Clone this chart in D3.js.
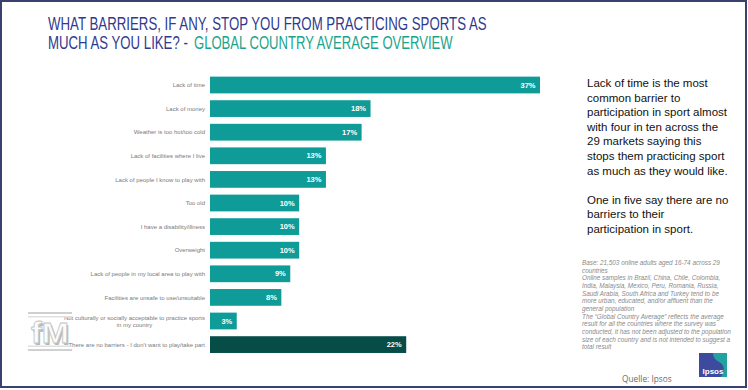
<!DOCTYPE html>
<html>
<head>
<meta charset="utf-8">
<script src="https://cdn.jsdelivr.net/npm/d3@7"></script>
<style>
  html, body { margin: 0; padding: 0; background: #fff; }
  svg { display: block; font-family: "Liberation Sans", Arial, sans-serif; }
</style>
</head>
<body>
<div id="chart"></div>
<script>
// chart data
var categories = [
    "Lack of time",
    "Lack of money",
    "Weather is too hot/too cold",
    "Lack of facilities where I live",
    "Lack of people I know to play with",
    "Too old",
    "I have a disability/illness",
    "Overweight",
    "Lack of people in my local area to play with",
    "Facilities are unsafe to use/unsuitable",
    "Not culturally or socially acceptable to practice sports\nin my country",
    "There are no barriers - I don't want to play/take part"
];
var values = [37, 18, 17, 13, 13, 10, 10, 10, 9, 8, 3, 22];
var highlight = [false, false, false, false, false, false, false, false, false, false, false, true];

var titleLine1 = "WHAT BARRIERS, IF ANY, STOP YOU FROM PRACTICING SPORTS AS";
var titleLine2a = "MUCH AS YOU LIKE? -";
var titleLine2b = "GLOBAL COUNTRY AVERAGE OVERVIEW";

var summaryLines = [
    "Lack of time is the most",
    "common barrier to",
    "participation in sport almost",
    "with four in ten across the",
    "29 markets saying this",
    "stops them practicing sport",
    "as much as they would like.",
    "",
    "One in five say there are no",
    "barriers to their",
    "participation in sport."
];

var noteLines = [
    "Base: 21,503 online adults aged 16-74 across 29",
    "countries",
    "Online samples in Brazil, China, Chile, Colombia,",
    "India, Malaysia, Mexico, Peru, Romania, Russia,",
    "Saudi Arabia, South Africa and Turkey tend to be",
    "more urban, educated, and/or affluent than the",
    "general population",
    "The \u201cGlobal Country Average\u201d reflects the average",
    "result for all the countries where the survey was",
    "conducted, it has not been adjusted to the population",
    "size of each country and is not intended to suggest a",
    "total result"
];

function init() {
    var w = 748;
    var h = 390;

    var svg = d3.select("#chart").append("svg")
                .attr("width", w)
                .attr("height", h);

    // frame
    svg.append("rect")
       .attr("x", 1).attr("y", 1)
       .attr("width", w - 3).attr("height", h - 4)
       .attr("fill", "#fff")
       .attr("stroke", "#3b416f")
       .attr("stroke-width", 2);

    // title, squeezed horizontally to the narrow face of the original
    function squeezed(str, x, y, width, color) {
        var g = svg.append("g");
        var t = g.append("text")
                 .attr("font-size", 18)
                 .attr("fill", color)
                 .text(str);
        var natural = t.node().getComputedTextLength();
        g.attr("transform", "translate(" + x + "," + y + ") scale(" + (width / natural) + ",1)");
    }
    squeezed(titleLine1, 48, 30, 439, "#2f3a8f");
    squeezed(titleLine2a, 48, 49, 140, "#2f3a8f");
    squeezed(titleLine2b, 194, 49, 259, "#1aa38c");

    // bars
    var left = 210;
    var xScale = d3.scaleLinear()
                   .domain([0, 37])
                   .range([0, 330]);

    var yScale = d3.scaleBand()
                   .domain(categories)
                   .range([73.2, 356.4])
                   .paddingInner(0.29)
                   .paddingOuter(0.145);

    var chart = svg.append("g").attr("transform", "translate(" + left + ",0)");

    chart.selectAll("rect.bar")
         .data(categories)
         .enter()
         .append("rect")
         .attr("class", "bar")
         .attr("x", 0)
         .attr("y", d => yScale(d))
         .attr("width", (d, i) => xScale(values[i]))
         .attr("height", yScale.bandwidth())
         .attr("fill", (d, i) => highlight[i] ? "#064c47" : "#0f9c99");

    chart.selectAll("text.val")
         .data(categories)
         .enter()
         .append("text")
         .attr("class", "val")
         .attr("x", (d, i) => xScale(values[i]) - 4.5)
         .attr("y", d => yScale(d) + yScale.bandwidth() / 2)
         .attr("dy", "0.35em")
         .attr("text-anchor", "end")
         .attr("font-size", 7.5)
         .attr("font-weight", "bold")
         .attr("fill", "#fff")
         .text((d, i) => values[i] + "%");

    // category labels
    var labelX = left - 5;
    categories.forEach(function(c) {
        var lines = c.split("\n");
        var cy = yScale(c) + yScale.bandwidth() / 2;
        var txt = svg.append("text")
                     .attr("font-size", 6)
                     .attr("fill", "#7a7a7a");
        if (lines.length === 1) {
            txt.attr("x", labelX).attr("y", cy).attr("dy", "0.35em")
               .attr("text-anchor", "end").text(c);
        } else {
            txt.attr("x", labelX).attr("y", cy - 3.6).attr("dy", "0.35em")
               .attr("text-anchor", "end").text(lines[0]);
            var wid = txt.node().getComputedTextLength();
            svg.append("text")
               .attr("font-size", 6)
               .attr("fill", "#7a7a7a")
               .attr("x", labelX - wid / 2)
               .attr("y", cy + 3.8)
               .attr("dy", "0.35em")
               .attr("text-anchor", "middle")
               .text(lines[1]);
        }
    });

    // summary text on the right
    svg.append("g").selectAll("text")
       .data(summaryLines)
       .enter()
       .append("text")
       .attr("x", 587)
       .attr("y", (d, i) => 87 + i * 14.6)
       .attr("font-size", 11.5)
       .attr("fill", "#111")
       .text(d => d);

    // notes
    svg.append("g").selectAll("text")
       .data(noteLines)
       .enter()
       .append("text")
       .attr("x", 582)
       .attr("y", (d, i) => 265 + i * 7.65)
       .attr("font-size", 6.35)
       .attr("font-style", "italic")
       .attr("fill", "#8a8a8a")
       .text(d => d);

    // source
    svg.append("text")
       .attr("x", 622)
       .attr("y", 382)
       .attr("font-family", "'Open Sans', sans-serif")
       .attr("font-size", 8.3)
       .attr("fill", "#6a6a6a")
       .text("Quelle: Ipsos");

    // Ipsos logo
    var logo = svg.append("g").attr("transform", "translate(699,353)");
    logo.append("rect").attr("width", 28).attr("height", 24).attr("fill", "#3d4a9e");
    logo.append("path")
        .attr("d", "M14,0 L28,0 L28,24 L22,24 C26,18 26,12 20,9 C16,7 14,4 14,0 Z")
        .attr("fill", "#1fa3a0");
    logo.append("text")
        .attr("x", 14).attr("y", 21)
        .attr("text-anchor", "middle")
        .attr("font-size", 8)
        .attr("font-weight", "bold")
        .attr("fill", "#fff")
        .text("Ipsos");

    // fM watermark
    var fm = svg.append("g").attr("transform", "translate(28,312)");
    fm.append("rect").attr("x", 0).attr("y", 0).attr("width", 44).attr("height", 2).attr("fill", "#d0d0d0");
    fm.append("rect").attr("x", 0).attr("y", 4).attr("width", 44).attr("height", 1.5).attr("fill", "#e0e0e0");
    fm.append("rect").attr("x", 0).attr("y", 33.5).attr("width", 44).attr("height", 1.5).attr("fill", "#e0e0e0");
    fm.append("rect").attr("x", 0).attr("y", 37).attr("width", 44).attr("height", 2).attr("fill", "#d0d0d0");
    fm.append("text")
      .attr("x", 23.5).attr("y", 32.5)
      .attr("text-anchor", "middle")
      .attr("font-size", 30)
      .attr("font-weight", "bold")
      .attr("fill", "#b8b8b8")
      .attr("textLength", 38)
      .attr("lengthAdjust", "spacingAndGlyphs")
      .text("fM");
    fm.append("text")
      .attr("x", 22).attr("y", 31)
      .attr("text-anchor", "middle")
      .attr("font-size", 30)
      .attr("font-weight", "bold")
      .attr("fill", "#fbfbfb")
      .attr("stroke", "#c4c4c4")
      .attr("stroke-width", 0.8)
      .attr("textLength", 38)
      .attr("lengthAdjust", "spacingAndGlyphs")
      .text("fM");
}

window.onload = init;
</script>
</body>
</html>
